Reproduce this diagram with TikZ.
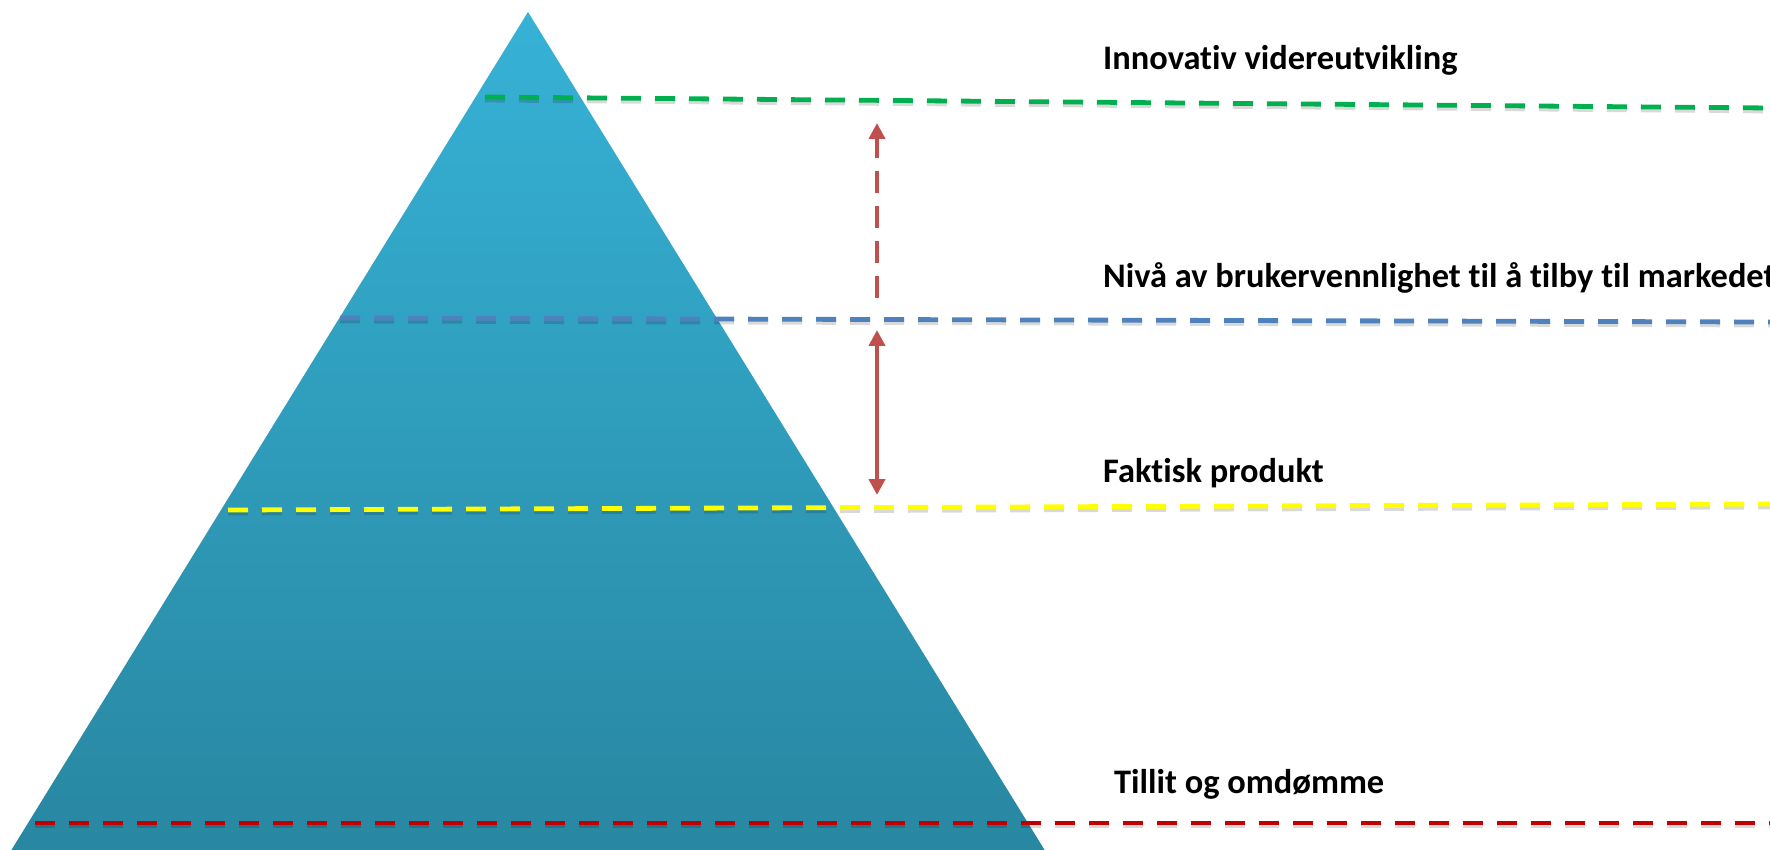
\documentclass[tikz,border=0pt]{standalone}
\usepackage{fontspec}
\setmainfont[Ligatures=NoCommon]{Carlito}
\usetikzlibrary{arrows.meta}
\definecolor{pyrtop}{RGB}{54,178,214}
\definecolor{pyrbot}{RGB}{40,134,160}
\definecolor{lgreen}{RGB}{0,176,80}
\definecolor{lblue}{RGB}{79,129,189}
\definecolor{lyellow}{RGB}{255,255,0}
\definecolor{lred}{RGB}{192,0,0}
\definecolor{arred}{RGB}{192,80,77}
\tikzset{
  lvl/.style={line width=4.8pt, dash pattern=on 20pt off 14pt},
  shd/.style={line width=4.8pt, dash pattern=on 20pt off 14pt, draw=black, opacity=0.15, transform canvas={yshift=-3pt}},
  lbl/.style={anchor=base west, inner sep=0pt, font=\fontsize{34.4}{40}\selectfont\bfseries},
  arr/.style={draw=arred, line width=4.5pt, -{Triangle[length=16pt,width=16pt]}},
}
\begin{document}
\begin{tikzpicture}[x=1pt,y=-1pt]
\useasboundingbox (0,0) rectangle (1770,850);
\begin{scope}
\clip (0,0) rectangle (1770,850);
\shade[top color=pyrtop, bottom color=pyrbot] (528,12) -- (1052,862) -- (4,862) -- cycle;
\end{scope}
% level lines
\coordinate (g1) at (485,97);  \coordinate (g2) at (1770,108);
\coordinate (b1) at (340,318); \coordinate (b2) at (1770,322);
\coordinate (y1) at (228,510); \coordinate (y2) at (1770,504);
\coordinate (r1) at (35,823);  \coordinate (r2) at (1770,823);
\draw[shd] (g1) -- (g2);
\draw[shd] (b1) -- (b2);
\draw[shd] (y1) -- (y2);
\draw[shd] (r1) -- (r2);
\draw[lvl, lgreen] (g1) -- (g2);
\draw[lvl, lblue] (b1) -- (b2);
\draw[lvl, lyellow] (y1) -- (y2);
\draw[lvl, lred] (r1) -- (r2);
% labels
\node[lbl] (t1) at (1103,70) {Innovativ videreutvikling};
\node[lbl] (t2) at (1103,288) {Nivå av brukervennlighet til å tilby til markedet};
\node[lbl] (t3) at (1103,482) {Faktisk produkt};
\node[lbl] (t4) at (1114,793) {Tillit og omdømme};
% arrows
\coordinate (a1) at (877,298); \coordinate (a2) at (877,123);
\draw[arr, dash pattern=on 22pt off 13pt] (a1) -- (a2);
\coordinate (s1) at (877,330); \coordinate (s2) at (877,495);
\draw[arr, {Triangle[length=16pt,width=16pt]}-{Triangle[length=16pt,width=16pt]}] (s1) -- (s2);
\end{tikzpicture}
\end{document}
